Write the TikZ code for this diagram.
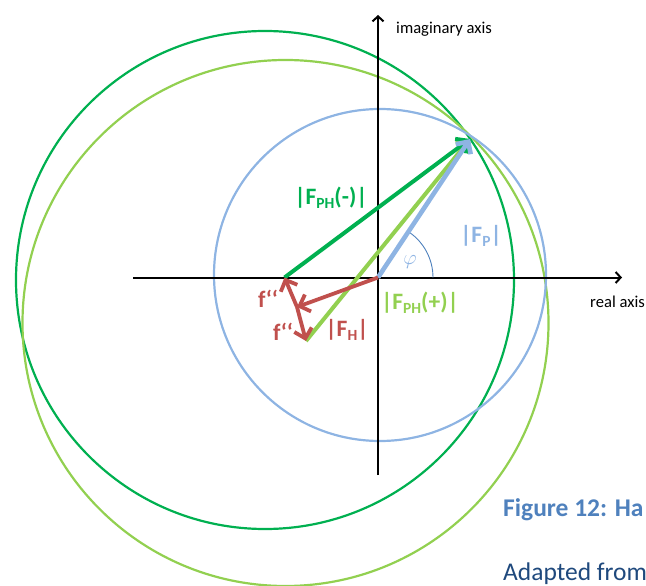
\documentclass[tikz,border=0pt]{standalone}
\usepackage{fontspec}
\setmainfont{Carlito}
\usetikzlibrary{arrows.meta}
\definecolor{dgreen}{RGB}{0,176,80}
\definecolor{lgreen}{RGB}{146,208,80}
\definecolor{lblue}{RGB}{142,180,227}
\definecolor{mblue}{RGB}{79,129,189}
\definecolor{dred}{RGB}{192,80,77}
\definecolor{navy}{RGB}{31,73,125}
\newcommand\lowsub[1]{\raisebox{-0.35ex}{\fontsize{15.5}{15.5}\selectfont #1}}
\tikzset{
  circ/.style={line width=2.2pt},
  axisline/.style={line width=2pt, black, -{Straight Barb[length=5pt,width=11pt,line width=2pt]}},
  vec/.style={line width=4pt, -{Straight Barb[length=9pt,width=18pt]}},
  redvec/.style={line width=3.8pt, dred, -{Straight Barb[length=9pt,width=18pt]}},
  lbl/.style={font=\fontsize{23.5}{26}\selectfont\bfseries, inner sep=0pt},
  axlbl/.style={font=\fontsize{16.6}{19}\selectfont, inner sep=0pt},
}
\begin{document}
\begin{tikzpicture}[x=1pt,y=-1pt]
\useasboundingbox (0,0) rectangle (646,586);
\begin{scope}
\clip (0,0) rectangle (646,586);
% circles
\draw[circ, dgreen] (265,280) circle[radius=249pt];
\draw[circ, lgreen] (285.5,323) circle[radius=263pt];
\draw[circ, lblue] (380,275) circle[radius=166pt];
% coordinates
\coordinate (O) at (378,277.5);
\coordinate (P) at (470,139);
\coordinate (A) at (284.5,277.5);
\coordinate (B) at (306,341);
\coordinate (H) at (297,307);
\coordinate (xl) at (133,277.5);
\coordinate (xr) at (622,277.5);
\coordinate (yb) at (378,475);
\coordinate (yt) at (378,15);
\coordinate (arcend) at (433,277.5);
% axes
\draw[axisline] (xl) -- (xr);
\draw[axisline] (yb) -- (yt);
% angle arc
\draw[mblue, line width=0.9pt] (arcend) arc[start angle=0, end angle=55.7, radius=55pt];
% vectors
\draw[vec, lgreen] (B) -- (P);
\draw[vec, dgreen] (A) -- (P);
\draw[vec, lblue, line width=4.6pt] (O) -- (P);
\draw[redvec] (O) -- (H);
\draw[redvec] (H) -- (A);
\draw[redvec] (H) -- (B);
% labels
\node[lbl, dgreen] (lm) at (331,198) {|F\lowsub{PH}(-)|};
\node[lbl, lblue] (lp) at (481,236) {|F\lowsub{P}|};
\node[lbl, lgreen] (lpl) at (420,303) {|F\lowsub{PH}(+)|};
\node[lbl, dred] (lh) at (347,330) {|F\lowsub{H}|};
\node[lbl, dred] (f1) at (268,299) {f‘‘};
\node[lbl, dred] (f2) at (283,332) {f‘‘};
\node[inner sep=0pt, lblue, font=\fontsize{22}{24}\selectfont] (phi) at (410,262) {$\varphi$};
\node[axlbl, anchor=west] (im) at (396,29) {imaginary axis};
\node[axlbl, anchor=west] (re) at (590,301.5) {real axis};
\node[anchor=west, inner sep=0pt, mblue, font=\fontsize{25.5}{28}\selectfont\bfseries] (cap) at (503,510) {Figure 12: Ha};
\node[anchor=west, inner sep=0pt, navy, font=\fontsize{25.5}{28}\selectfont] (adp) at (503,574) {Adapted from};
\end{scope}
\end{tikzpicture}
\end{document}
